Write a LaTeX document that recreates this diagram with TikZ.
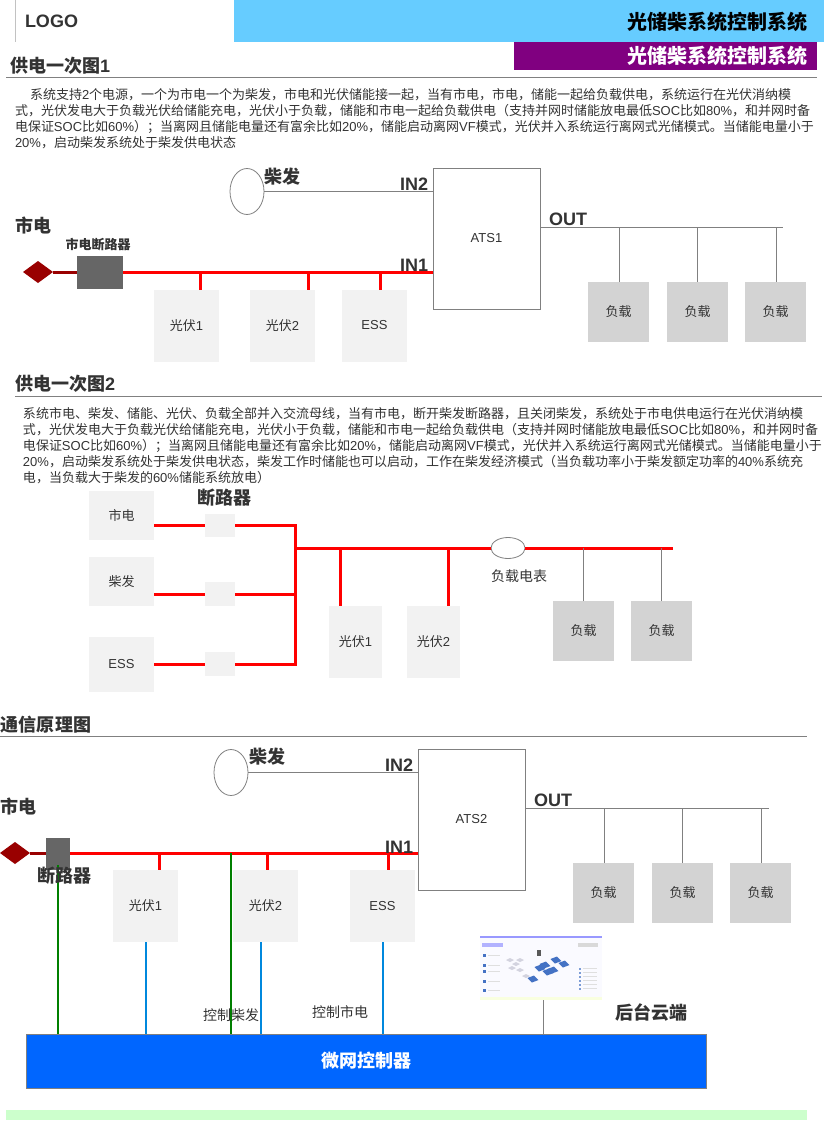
\documentclass[tikz,border=0pt]{standalone}
\usetikzlibrary{shapes.geometric}
\usepackage{fontspec}
\setmainfont{Liberation Sans}
\newfontfamily\cjk{Noto Sans CJK SC}
\newfontfamily\latn{Liberation Sans}
\newcommand{\lat}[1]{{\latn #1}}
\newcommand{\fs}[1]{\fontsize{#1}{#1}\selectfont}
\definecolor{ink}{HTML}{333333}
\definecolor{skyb}{HTML}{66CCFF}
\definecolor{purp}{HTML}{800080}
\definecolor{rule}{HTML}{808080}
\definecolor{loadc}{HTML}{D3D3D3}
\definecolor{pvc}{HTML}{F2F2F2}
\definecolor{dred}{HTML}{990000}
\definecolor{brkc}{HTML}{666666}
\definecolor{bluel}{HTML}{0088DD}
\definecolor{ctrl}{HTML}{0066FF}
\definecolor{greenl}{HTML}{007F00}
\definecolor{mint}{HTML}{CCFFCC}
\definecolor{panel}{HTML}{4472C4}
\tikzset{
  base/.style={inner sep=0pt,outer sep=0pt,text=ink,font=\cjk\fs{13}},
  load/.style={base,fill=loadc,minimum width=61pt,minimum height=60pt},
  pv/.style={base,fill=pvc,minimum width=65pt,minimum height=72pt},
  ats/.style={base,draw=rule,fill=white,line width=.8pt,minimum width=107pt,minimum height=141pt},
  gen/.style={ellipse,draw=rule,fill=white,line width=.8pt,minimum width=34pt,minimum height=46pt,inner sep=0pt,outer sep=0pt},
  src/.style={diamond,fill=dred,minimum width=30pt,minimum height=22pt,inner sep=0pt,outer sep=0pt},
  head/.style={base,anchor=west,font=\cjk\bfseries\fs{18}},
  lab/.style={base,font=\cjk\bfseries\fs{18}},
  port/.style={base,font=\latn\bfseries\fs{18}},
  para/.style={base,anchor=west},
  wire/.style={draw=rule,line width=.8pt},
  hot/.style={draw=red,line width=3pt},
  hotd/.style={draw=dred,line width=3pt},
  grn/.style={draw=greenl,line width=2pt},
  blu/.style={draw=bluel,line width=2pt},
  secline/.style={draw=rule,line width=.8pt}
}
\begin{document}
\begin{tikzpicture}[x=1pt,y=-1pt]
\useasboundingbox (0,0) rectangle (824,1142);
\fill[white] (0,0) rectangle (824,1142);
% header
\coordinate (la) at (15,0); \coordinate (lb) at (15,42);
\draw[draw=pvc!80!black,line width=.8pt] (la) -- (lb);
\node[base,anchor=west,font=\latn\bfseries\fs{18}] (logo) at (25,21) {LOGO};
\node[base,fill=skyb,minimum width=590pt,minimum height=42pt,anchor=north west] (hbar) at (234,0) {};
\node[base,anchor=east,text=black,font=\cjk\bfseries\fs{20}] (htitle) at (807,22) {光储柴系统控制系统};
\node[base,fill=purp,minimum width=303pt,minimum height=28pt,anchor=north west] (pbar) at (514,42) {};
\node[base,anchor=east,text=white,font=\cjk\bfseries\fs{20}] (ptitle) at (807,56) {光储柴系统控制系统};
% section 1
\node[head] (h1) at (10,66) {供电一次图\lat{1}};
\coordinate (s1a) at (6,77); \coordinate (s1b) at (817,77);
\draw[secline] (s1a) -- (s1b);
\node[para] (p11) at (30,95) {系统支持\lat{2}个电源，一个为市电一个为柴发，市电和光伏储能接一起，当有市电，市电，储能一起给负载供电，系统运行在光伏消纳模};
\node[para] (p12) at (15,111) {式，光伏发电大于负载光伏给储能充电，光伏小于负载，储能和市电一起给负载供电（支持并网时储能放电最低\lat{SOC}比如\lat{80\%}，和并网时备};
\node[para] (p13) at (15,127) {电保证\lat{SOC}比如\lat{60\%}）；当离网且储能电量还有富余比如\lat{20\%}，储能启动离网\lat{VF}模式，光伏并入系统运行离网式光储模式。当储能电量小于};
\node[para] (p14) at (15,143) {\lat{20\%}，启动柴发系统处于柴发供电状态};
% diagram 1
\node[gen] (g1) at (247,191.5) {};
\node[lab] (g1l) at (282,177) {柴发};
\node[ats] (ats1) at (486.5,238.5) {\lat{ATS1}};
\draw[wire] (g1.east) -- (g1.east -| ats1.west);
\node[port] (in2l) at (414,184) {IN2};
\node[port] (outl) at (568,219) {OUT};
\coordinate (o1) at (540,227); \coordinate (o1e) at (783,227);
\draw[wire] (o1) -- (o1e);
\node[load] (l11) at (618.5,312) {负载};
\node[load] (l12) at (697.5,312) {负载};
\node[load] (l13) at (775.5,312) {负载};
\foreach \x in {619,697,776}{\draw[wire] (\x,227) -- (\x,282);}
\node[lab] (sd1) at (33,225) {市电};
\node[base,font=\cjk\bfseries\fs{13}] (bk1l) at (98,245) {市电断路器};
\node[src] (d1) at (38,272) {};
\node[base,fill=brkc,minimum width=46pt,minimum height=33pt] (b1) at (100,272.5) {};
\draw[hotd] (d1.east) -- (b1.west |- d1.east);
\coordinate (i1) at (433,272.5);
\draw[hot] (b1.east) -- (i1);
\node[port] (in1l) at (414,265) {IN1};
\node[pv] (pv11) at (186.5,325.5) {光伏\lat{1}};
\node[pv] (pv12) at (282.5,325.5) {光伏\lat{2}};
\node[pv] (pv13) at (374.5,325.5) {\lat{ESS}};
\coordinate (t11) at (200,272.5); \coordinate (t12) at (308,272.5); \coordinate (t13) at (380,272.5);
\draw[hot] (t11) -- (t11 |- pv11.north);
\draw[hot] (t12) -- (t12 |- pv12.north);
\draw[hot] (t13) -- (t13 |- pv13.north);
% section 2
\node[head] (h2) at (15,384) {供电一次图\lat{2}};
\coordinate (s2a) at (15,396); \coordinate (s2b) at (822,396);
\draw[secline] (s2a) -- (s2b);
\node[para] (p21) at (23,414) {系统市电、柴发、储能、光伏、负载全部并入交流母线，当有市电，断开柴发断路器，且关闭柴发，系统处于市电供电运行在光伏消纳模};
\node[para] (p22) at (23,430) {式，光伏发电大于负载光伏给储能充电，光伏小于负载，储能和市电一起给负载供电（支持并网时储能放电最低\lat{SOC}比如\lat{80\%}，和并网时备};
\node[para] (p23) at (23,446) {电保证\lat{SOC}比如\lat{60\%}）；当离网且储能电量还有富余比如\lat{20\%}，储能启动离网\lat{VF}模式，光伏并入系统运行离网式光储模式。当储能电量小于};
\node[para] (p24) at (23,462) {\lat{20\%}，启动柴发系统处于柴发供电状态，柴发工作时储能也可以启动，工作在柴发经济模式（当负载功率小于柴发额定功率的\lat{40\%}系统充};
\node[para] (p25) at (23,478) {电，当负载大于柴发的\lat{60\%}储能系统放电）};
\node[base,fill=pvc,minimum width=65pt,minimum height=49pt] (s21) at (121.5,515.5) {市电};
\node[base,fill=pvc,minimum width=65pt,minimum height=49pt] (s22) at (121.5,581.5) {柴发};
\node[base,fill=pvc,minimum width=65pt,minimum height=55pt] (s23) at (121.5,664.5) {\lat{ESS}};
\node[base,fill=pvc,minimum width=30pt,minimum height=23pt] (k1) at (220,525.5) {};
\node[base,fill=pvc,minimum width=30pt,minimum height=24pt] (k2) at (220,594) {};
\node[base,fill=pvc,minimum width=30pt,minimum height=24pt] (k3) at (220,664) {};
\node[base,font=\cjk\bfseries\fs{18}] (kl) at (224,498) {断路器};
\draw[hot] (s21.east |- k1.west) -- (k1.west);
\draw[hot] (s22.east |- k2.west) -- (k2.west);
\draw[hot] (s23.east |- k3.west) -- (k3.west);
\coordinate (v1) at (295,525.5); \coordinate (v2) at (295,594); \coordinate (v3) at (295,664); \coordinate (v0) at (295,548);
\draw[hot] (k1.east) -- (v1) -- (v3) -- (k3.east);
\draw[hot] (k2.east) -- (v2);
\node[ellipse,draw=rule,fill=white,line width=.8pt,minimum width=34pt,minimum height=21pt,inner sep=0pt,outer sep=0pt] (mt) at (508,548) {};
\coordinate (be) at (673,548);
\draw[hot] (v0) -- (mt.west);
\draw[hot] (mt.east) -- (be);
\node[base,font=\cjk\fs{14}] (mtl) at (519,576) {负载电表};
\node[base,fill=pvc,minimum width=53pt,minimum height=72pt] (pv21) at (355.5,642) {光伏\lat{1}};
\node[base,fill=pvc,minimum width=53pt,minimum height=72pt] (pv22) at (433.5,642) {光伏\lat{2}};
\coordinate (t21) at (340,548); \coordinate (t22) at (448,548);
\draw[hot] (t21) -- (t21 |- pv21.north);
\draw[hot] (t22) -- (t22 |- pv22.north);
\node[load] (l21) at (583.5,631) {负载};
\node[load] (l22) at (661.5,631) {负载};
\draw[wire] (l21.north) -- (l21.north |- be);
\draw[wire] (l22.north) -- (l22.north |- be);
% section 3
\node[head] (h3) at (1,725) {通信原理图};
\coordinate (s3a) at (0,736); \coordinate (s3b) at (807,736);
\draw[secline] (s3a) -- (s3b);
\node[gen] (g3) at (231,772.5) {};
\node[lab] (g3l) at (267,757) {柴发};
\node[ats] (ats2) at (471.5,819.5) {\lat{ATS2}};
\draw[wire] (g3.east) -- (g3.east -| ats2.west);
\node[port] (in23l) at (399,765) {IN2};
\node[port] (out3l) at (553,800) {OUT};
\coordinate (o3) at (525,808); \coordinate (o3e) at (769,808);
\draw[wire] (o3) -- (o3e);
\node[load] (l31) at (603.5,893) {负载};
\node[load] (l32) at (682.5,893) {负载};
\node[load] (l33) at (760.5,893) {负载};
\foreach \x in {604,682,761}{\draw[wire] (\x,808) -- (\x,863);}
\node[lab] (sd3) at (18,806) {市电};
\node[src] (d3) at (15,853) {};
\node[base,fill=brkc,minimum width=24pt,minimum height=32pt] (b3) at (58,854) {};
\draw[hotd] (d3.east) -- (b3.west |- d3.east);
\coordinate (i3) at (418,853);
\draw[hot] (b3.east |- i3) -- (i3);
\node[port] (in13l) at (399,847) {IN1};
\node[pv] (pv31) at (145.5,906) {光伏\lat{1}};
\node[pv] (pv32) at (265.5,906) {光伏\lat{2}};
\node[pv] (pv33) at (382.5,906) {\lat{ESS}};
\coordinate (t31) at (159,853); \coordinate (t32) at (267,853); \coordinate (t33) at (388,853);
\draw[hot] (t31) -- (t31 |- pv31.north);
\draw[hot] (t32) -- (t32 |- pv32.north);
\draw[hot] (t33) -- (t33 |- pv33.north);
\node[base,fill=ctrl,draw=rule,line width=.8pt,minimum width=680pt,minimum height=54pt,text=white,font=\cjk\bfseries\fs{18}] (mc) at (366,1061) {微网控制器};
\coordinate (gb) at (58,865); \coordinate (gv) at (231,853);
\draw[grn] (gb) -- (gb |- mc.north);
\draw[grn] (gv) -- (gv |- mc.north);
\node[lab] (bk3) at (64,876) {断路器};
\coordinate (bl1) at (146,942); \coordinate (bl2) at (261,942);
\draw[blu] (bl1) -- (bl1 |- mc.north);
\draw[blu] (bl2) -- (bl2 |- mc.north);
\draw[blu] (pv33.south) -- (pv33.south |- mc.north);
\node[base,font=\cjk\fs{14}] (c1) at (231,1015) {控制柴发};
\node[base,font=\cjk\fs{14}] (c2) at (340,1012) {控制市电};
% screenshot thumbnail
\node[base,fill=blue!2,minimum width=122pt,minimum height=64pt] (shot) at (541,968) {};
\fill[blue!40!white] (480,936) rectangle (602,938);
\fill[green!20!yellow!12] (480,997) rectangle (602,1000);
\foreach \yy in {954,964,970,980,989}{\fill[panel] (483,\yy) rectangle (485.5,\yy+2.5); \fill[gray!25] (488,\yy+1) rectangle (500,\yy+2);}
\fill[blue!30] (482,943) rectangle (503,947);
\foreach \xx/\yy in {556/960,564/964,545/965,553/970,540/968,548/972,533/979}{
  \fill[panel] (\xx-5.5,\yy-1) -- (\xx+1,\yy-3.5) -- (\xx+5.5,\yy+1) -- (\xx-1,\yy+3.5) -- cycle;}
\foreach \xx/\yy in {510/960,516/964,520/970,526/976,520/960,512/968}{
  \fill[blue!15!gray!30] (\xx-4,\yy) -- (\xx,\yy-2) -- (\xx+4,\yy) -- (\xx,\yy+2) -- cycle;}
\fill[black!65] (537,950) rectangle (541,956);
\foreach \yy in {968,972,976,980,984,988}{\fill[panel!70] (579,\yy) rectangle (580.5,\yy+2); \fill[gray!25] (583,\yy) rectangle (597,\yy+1);}
\fill[gray!30] (578,943) rectangle (598,947);
\coordinate (scb) at (543,1000);
\draw[wire] (scb) -- (scb |- mc.north);
\node[lab] (cl) at (651,1013) {后台云端};
\node[base,fill=mint,minimum width=801pt,minimum height=10pt,anchor=north west] (bot) at (6,1110) {};
\end{tikzpicture}
\end{document}
